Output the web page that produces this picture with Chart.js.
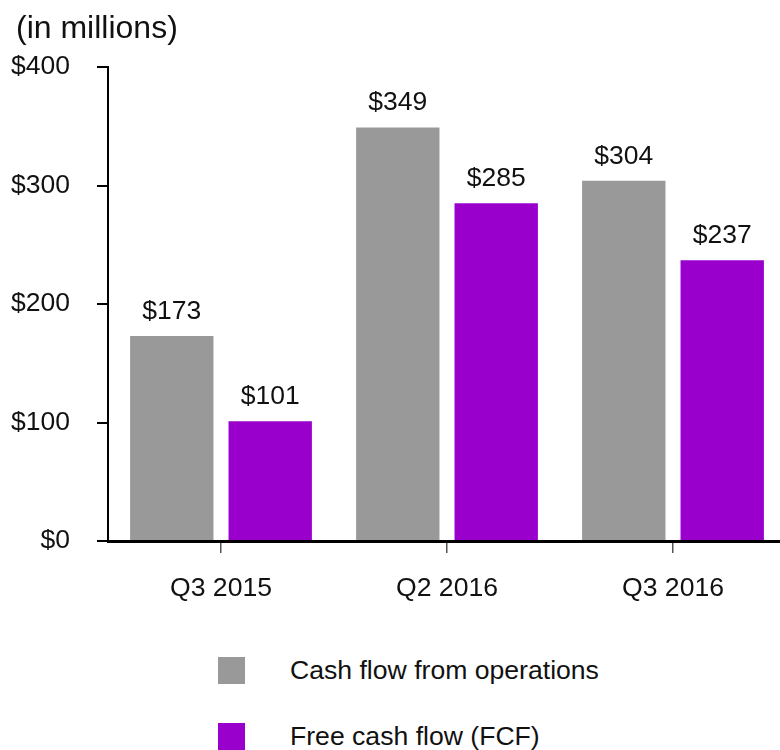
<!DOCTYPE html>
<html>
<head>
<meta charset="utf-8">
<script src="https://cdn.jsdelivr.net/npm/chart.js@4.4.0/dist/chart.umd.min.js"></script>
<style>
  body { margin: 0; background: #fff; overflow: hidden; font-family: "Liberation Sans", Arial, sans-serif; }
  #wrap { position: relative; width: 780px; height: 750px; overflow: hidden; }
  #legend { position: absolute; left: 218px; top: 657px; }
  .item { display: flex; align-items: center; height: 27px; margin-bottom: 39px; font-size: 26.6px; color: #111; }
  .box { width: 27px; height: 27px; margin-right: 45px; }
</style>
</head>
<body>
<div id="wrap">
  <canvas id="chart" width="786" height="620"></canvas>
  <div id="legend"></div>
</div>
<script>
const categories = ["Q3 2015", "Q2 2016", "Q3 2016"];
const operations = [173, 349, 304];
const freeCashFlow = [101, 285, 237];
const seriesNames = ["Cash flow from operations", "Free cash flow (FCF)"];
const seriesColors = ["#999999", "#9900cc"];
const yTicks = [0, 100, 200, 300, 400];
const unitLabel = "(in millions)";

const FONT = '"Liberation Sans", Arial, sans-serif';

// value above every bar
const valueLabels = {
    id: "valueLabels",
    afterDatasetsDraw(chart) {
        const ctx = chart.ctx;
        ctx.save();
        ctx.font = "26.5px " + FONT;
        ctx.fillStyle = "#111";
        ctx.textAlign = "center";
        ctx.textBaseline = "alphabetic";
        chart.data.datasets.forEach((ds, i) => {
            chart.getDatasetMeta(i).data.forEach((bar, j) => {
                ctx.fillText("$" + ds.data[j], bar.x, bar.y - 17);
            });
        });
        ctx.restore();
    }
};

// "(in millions)" in the top left corner
const unitTitle = {
    id: "unitTitle",
    afterDraw(chart) {
        const ctx = chart.ctx;
        ctx.save();
        ctx.font = "32px " + FONT;
        ctx.fillStyle = "#111";
        ctx.textAlign = "left";
        ctx.textBaseline = "middle";
        ctx.fillText(unitLabel, 16, 29);
        ctx.restore();
    }
};

const chart = new Chart(document.getElementById("chart"), {
    type: "bar",
    data: {
        labels: categories,
        datasets: [
            { label: seriesNames[0], data: operations, backgroundColor: seriesColors[0] },
            { label: seriesNames[1], data: freeCashFlow, backgroundColor: seriesColors[1] }
        ]
    },
    options: {
        responsive: false,
        animation: false,
        devicePixelRatio: 1,
        layout: { padding: { top: 67, left: 0, right: 0, bottom: 0 } },
        datasets: {
            bar: { categoryPercentage: 0.871, barPercentage: 0.847, borderWidth: 0 }
        },
        plugins: {
            legend: { display: false },
            tooltip: { enabled: false }
        },
        scales: {
            x: {
                afterFit: (scale) => { scale.height = 79; },
                grid: { offset: false, drawOnChartArea: false, tickLength: 12, color: "#555", lineWidth: 1.5 },
                border: { display: true, color: "#000", width: 3 },
                ticks: { color: "#111", font: { family: FONT, size: 26.6 }, padding: 20 }
            },
            y: {
                min: 0,
                max: 400,
                afterFit: (scale) => { scale.width = 108; },
                afterBuildTicks: (scale) => { scale.ticks = yTicks.map(v => ({ value: v })); },
                grid: { drawOnChartArea: false, tickLength: 11, color: "#000", lineWidth: 2 },
                border: { display: true, color: "#000", width: 2 },
                ticks: {
                    color: "#111",
                    font: { family: FONT, size: 26.5 },
                    padding: 27,
                    callback: (v) => "$" + v
                }
            }
        }
    },
    plugins: [valueLabels, unitTitle]
});

// legend as two stacked rows under the chart
const legend = document.getElementById("legend");
chart.data.datasets.forEach((ds) => {
    const row = document.createElement("div");
    row.className = "item";
    row.innerHTML = `<span class="box" style="background:${ds.backgroundColor}"></span><span>${ds.label}</span>`;
    legend.appendChild(row);
});
</script>
</body>
</html>
